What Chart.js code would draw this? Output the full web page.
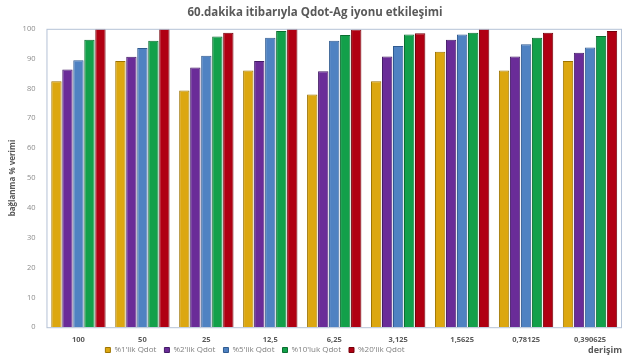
<!DOCTYPE html>
<html>
<head>
<meta charset="utf-8">
<script src="https://cdn.jsdelivr.net/npm/chart.js@4.4.0/dist/chart.umd.min.js"></script>
<style>
  html, body { margin: 0; padding: 0; background: #fff; }
  #wrap { width: 638px; height: 361px; }
</style>
</head>
<body>
<div id="wrap"><canvas id="chart" width="638" height="361"></canvas></div>
<script>
// Категории (концентрации)
const categories = ['100', '50', '25', '12,5', '6,25', '3,125', '1,5625', '0,78125', '0,390625'];

// Значения серий
const qdot1 = [82.4, 89.2, 79.3, 86.0, 78.0, 82.4, 92.3, 86.0, 89.2];
const qdot2 = [86.4, 90.6, 87.0, 89.2, 85.8, 90.7, 96.3, 90.7, 92.0];
const qdot5 = [89.5, 93.6, 91.0, 97.0, 96.0, 94.2, 98.1, 94.8, 93.7];
const qdot10 = [96.3, 96.0, 97.4, 99.3, 97.9, 98.1, 98.7, 97.0, 97.6];
const qdot20 = [100, 100, 98.7, 100, 99.8, 98.5, 100, 98.7, 99.3];

const seriesNames = ["%1'lik Qdot", "%2'lik Qdot", "%5'lik Qdot", "%10'luk Qdot", "%20'lik Qdot"];
const yTicks = [0, 10, 20, 30, 40, 50, 60, 70, 80, 90, 100];

const fills = ['#DCA710', '#6A2C98', '#4F82C2', '#12A04A', '#B00012'];
const borders = ['#9E7400', '#431A66', '#2F5A90', '#0A6E30', '#74000A'];

const allData = [qdot1, qdot2, qdot5, qdot10, qdot20];

// Рамка вокруг области графика + сдвиг легенды (влево и вверх, на строку с "derişim")
const framePlugin = {
  id: 'frame',
  afterLayout(chart) {
    const lg = chart.legend;
    lg.left -= 60;
    lg.right -= 60;
    lg.top -= 8;
    lg.bottom -= 8;
  },
  afterDraw(chart) {
    const a = chart.chartArea;
    const ctx = chart.ctx;
    ctx.save();
    ctx.strokeStyle = '#B4C2D6';
    ctx.lineWidth = 1;
    ctx.strokeRect(a.left + 0.5, a.top + 0.5, a.right - a.left - 1, a.bottom - a.top);
    ctx.restore();
  }
};

let context = document.getElementById('chart').getContext('2d');

new Chart(context, {
  type: 'bar',
  data: {
    labels: categories,
    datasets: allData.map((d, i) => ({
      label: seriesNames[i],
      data: d,
      backgroundColor: fills[i],
      borderColor: borders[i],
      borderWidth: 1,
      barPercentage: 0.94,
      categoryPercentage: 0.86
    }))
  },
  options: {
    responsive: false,
    animation: false,
    layout: { padding: { left: 8, right: 16, top: 4, bottom: 0 } },
    plugins: {
      title: {
        display: true,
        text: '60.dakika itibarıyla Qdot-Ag iyonu etkileşimi',
        color: '#595959',
        font: { family: 'Open Sans', size: 11.5, weight: 'bold' },
        padding: { top: 2, bottom: 9 }
      },
      legend: {
        position: 'bottom',
        maxHeight: 15,
        labels: {
          boxWidth: 5,
          boxHeight: 5,
          padding: 8,
          color: '#7F7F7F',
          font: { family: 'Open Sans', size: 8 }
        }
      },
      tooltip: { enabled: false }
    },
    scales: {
      x: {
        grid: { display: false },
        border: { display: false },
        ticks: { color: '#595959', font: { family: 'Open Sans', size: 7.5, weight: 'bold' }, padding: 0.5 },
        title: {
          display: true,
          text: 'derişim',
          align: 'end',
          color: '#595959',
          font: { family: 'Open Sans', size: 9, weight: 'bold' },
          padding: { top: 0, bottom: -10 }
        }
      },
      y: {
        min: 0,
        max: 100,
        afterBuildTicks(axis) { axis.ticks = yTicks.map(v => ({ value: v })); },
        grid: { display: false },
        border: { display: false },
        ticks: { color: '#8C8C8C', font: { family: 'Open Sans', size: 7.5 }, padding: 3 },
        title: {
          display: true,
          text: 'bağlanma % verimi',
          color: '#595959',
          font: { family: 'Open Sans', size: 8, weight: 'bold' },
          padding: { top: 0, bottom: 2 }
        }
      }
    }
  },
  plugins: [framePlugin]
});
</script>
</body>
</html>
